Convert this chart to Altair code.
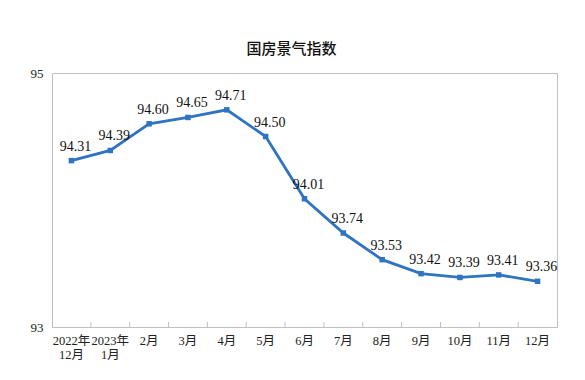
import altair as alt
import pandas as pd

months = ["2022年 12月", "2023年 1月", "2月", "3月", "4月", "5月", "6月",
          "7月", "8月", "9月", "10月", "11月", "12月"]
values = [94.31, 94.39, 94.60, 94.65, 94.71, 94.50, 94.01,
          93.74, 93.53, 93.42, 93.39, 93.41, 93.36]
y_ticks = [93, 94, 95]

df = pd.DataFrame({"cat": months, "val": values})
df["lbl"] = [f"{v:.2f}" for v in values]

W, H = 505, 254
BLUE = "#2E74C0"
GRAY = "#bfbfbf"
SERIF = "Liberation Serif, Noto Sans CJK SC"

x = alt.X("cat:N", sort=months, title=None,
          scale=alt.Scale(paddingInner=0, paddingOuter=0),
          axis=alt.Axis(labelAngle=0, labelAlign="center", labelBaseline="top",
                        ticks=False, domainColor=GRAY,
                        labelFont=SERIF, labelFontSize=12.5, labelColor="#222",
                        labelPadding=7, labelLineHeight=14,
                        labelExpr="split(datum.label, ' ')"))
y = alt.Y("val:Q", title=None,
          scale=alt.Scale(domain=[93, 95], nice=False, zero=False),
          axis=alt.Axis(values=y_ticks, grid=False, ticks=False, domainColor=GRAY,
                        labelFont=SERIF, labelFontSize=13, labelColor="#222",
                        labelPadding=9, format="d"))

base = alt.Chart(df)

line = base.mark_line(color=BLUE, strokeWidth=2.8).encode(x=x, y=y)
pts = base.mark_point(shape="square", filled=True, size=30, color=BLUE, opacity=1).encode(x=x, y=y)
labels = base.mark_text(font=SERIF, fontSize=14, color="#111", dy=-14, dx=4,
                        baseline="middle").encode(x=x, y=y, text="lbl:N")
ticks = base.transform_filter(alt.datum.cat != months[0]).mark_rule(
    color=GRAY, strokeWidth=1).encode(
    x=alt.X("cat:N", sort=months, bandPosition=0),
    y=alt.value(H - 5), y2=alt.value(H))

chart = alt.layer(ticks, line, pts, labels).properties(
    width=W, height=H,
    title=alt.TitleParams("国房景气指数", font="Noto Sans CJK SC", fontSize=15,
                          fontWeight=500, color="#111", offset=10, dx=-13),
    padding={"left": 44, "top": 65, "right": 20, "bottom": 45},
    autosize=alt.AutoSizeParams(type="none"),
).configure_view(stroke=GRAY, strokeWidth=1)

chart.save("out.html", embed_options={"renderer": "svg", "actions": False})
